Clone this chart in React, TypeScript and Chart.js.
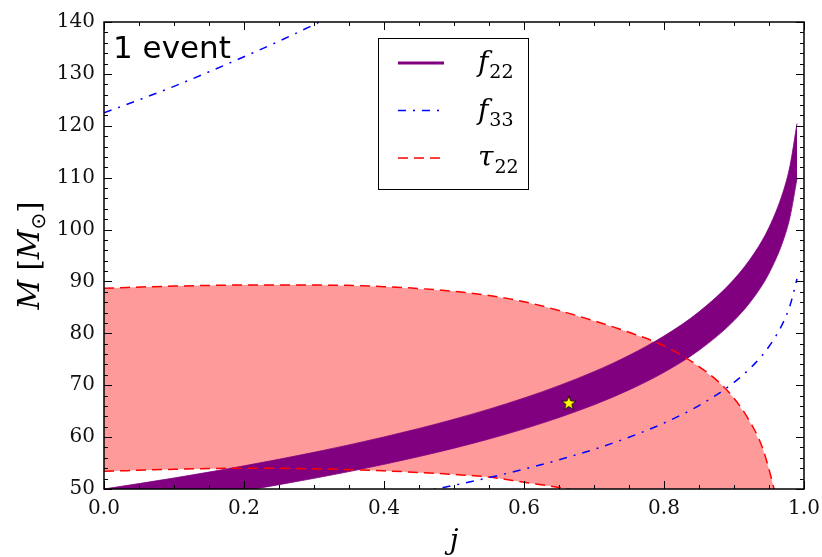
import React, { useEffect, useRef } from "react";
import { Chart, registerables } from "chart.js";

Chart.register(...registerables);

// ---------------- data ----------------
// spin grid for the f22 band
const bandJ = [0, 0.05, 0.1, 0.15, 0.2, 0.25, 0.3, 0.35, 0.4, 0.45, 0.5, 0.55, 0.6, 0.65, 0.7, 0.75, 0.8, 0.85, 0.9, 0.93, 0.95, 0.97, 0.98, 0.99];
const f22UpperM = [50.0, 51.04, 52.12, 53.26, 54.46, 55.73, 57.07, 58.5, 60.03, 61.67, 63.45, 65.39, 67.53, 69.92, 72.62, 75.75, 79.49, 84.14, 90.41, 95.66, 100.4, 107.21, 112.31, 120.43];
const f22LowerM = [45.6, 46.55, 47.54, 48.58, 49.67, 50.83, 52.05, 53.35, 54.75, 56.25, 57.87, 59.64, 61.59, 63.77, 66.23, 69.09, 72.49, 76.74, 82.45, 87.24, 91.57, 97.78, 102.42, 109.83];

// f33 curves (two branches)
const f33UpperJ = [0, 0.05, 0.1, 0.15, 0.2, 0.25, 0.3, 0.35];
const f33UpperM = [122.5, 125.0, 127.6, 130.4, 133.3, 136.3, 139.5, 142.9];
const f33LowerJ = [0.45, 0.5, 0.55, 0.6, 0.65, 0.7, 0.75, 0.8, 0.85, 0.9, 0.93, 0.95, 0.97, 0.98, 0.99];
const f33LowerM = [49.34, 50.71, 52.19, 53.82, 55.62, 57.64, 59.97, 62.71, 66.08, 70.55, 74.21, 77.46, 82.02, 85.35, 90.5];

// tau22 allowed region boundaries
const tauUpperJ = [0, 0.1, 0.2, 0.3, 0.4, 0.5, 0.55, 0.6, 0.65, 0.7, 0.75, 0.8, 0.85, 0.88, 0.9, 0.92, 0.94, 0.95, 0.96];
const tauUpperM = [88.7, 89.1, 89.3, 89.3, 89.0, 88.1, 87.3, 86.1, 84.4, 82.4, 80.2, 77.6, 73.6, 70.4, 67.5, 63.6, 58.2, 53.8, 48.5];
const tauLowerJ = [0, 0.1, 0.2, 0.3, 0.4, 0.5, 0.55, 0.6, 0.65, 0.7];
const tauLowerM = [53.4, 53.8, 54.0, 53.9, 53.5, 52.8, 52.3, 51.3, 50.3, 49.0];

// injected source
const starJ = [0.664];
const starM = [66.6];

// axes
const xTickValues = [0, 0.2, 0.4, 0.6, 0.8, 1.0];
const yTickValues = [50, 60, 70, 80, 90, 100, 110, 120, 130, 140];
const xMinorStep = 0.05;
const yMinorStep = 2;
const xTitle = "j";
const yTitleParts = { base: "M", open: " [", inner: "M", sub: "\u2299", close: "]" };

const legendItems = [
  { base: "f", sub: "22" },
  { base: "f", sub: "33" },
  { base: "\u03C4", sub: "22" },
];
const annotationText = "1 event";

// ---------------- styles ----------------
const PURPLE = "#800080";
const BLUE = "#0000ff";
const RED = "#ff0000";
const TAU_FILL = "#ff9a9a";
const DASHDOT = [8, 7, 2, 7];
const DASHED = [10, 6];
const SERIF = "'DejaVu Serif', serif";

const pts = (xs: number[], ys: number[]) => xs.map((x, i) => ({ x, y: ys[i] }));

function drawMath(ctx: CanvasRenderingContext2D, base: string, sub: string, x: number, y: number, baseSize: number, subSize: number, subDy: number) {
  ctx.font = `italic ${baseSize}px ${SERIF}`;
  ctx.fillText(base, x, y);
  const w = ctx.measureText(base).width;
  ctx.font = `${subSize}px ${SERIF}`;
  ctx.fillText(sub, x + w + 1, y + subDy);
}

const decorPlugin = {
  id: "decor",
  afterDatasetsDraw(chart: any) {
    const { ctx, chartArea: a, scales } = chart;
    const xs = scales.x;
    const ys = scales.y;
    ctx.save();
    ctx.strokeStyle = "#000";
    ctx.lineWidth = 1;
    const maj = 8;
    const mnr = 4;
    // x ticks (bottom & top), inward
    const nx = Math.round((xs.max - xs.min) / xMinorStep);
    for (let i = 0; i <= nx; i++) {
      const v = xs.min + i * xMinorStep;
      const isMaj = xTickValues.some((t) => Math.abs(t - v) < 1e-6);
      const len = isMaj ? maj : mnr;
      const px = Math.round(xs.getPixelForValue(v)) + 0.5;
      ctx.beginPath();
      ctx.moveTo(px, a.bottom);
      ctx.lineTo(px, a.bottom - len);
      ctx.moveTo(px, a.top);
      ctx.lineTo(px, a.top + len);
      ctx.stroke();
    }
    const ny = Math.round((ys.max - ys.min) / yMinorStep);
    for (let i = 0; i <= ny; i++) {
      const v = ys.min + i * yMinorStep;
      const isMaj = yTickValues.some((t) => Math.abs(t - v) < 1e-6);
      const len = isMaj ? maj : mnr;
      const py = Math.round(ys.getPixelForValue(v)) + 0.5;
      ctx.beginPath();
      ctx.moveTo(a.left, py);
      ctx.lineTo(a.left + len, py);
      ctx.moveTo(a.right, py);
      ctx.lineTo(a.right - len, py);
      ctx.stroke();
    }
    // frame
    ctx.lineWidth = 1.5;
    ctx.strokeRect(a.left, a.top, a.right - a.left, a.bottom - a.top);

    // annotation
    ctx.fillStyle = "#000";
    ctx.textBaseline = "alphabetic";
    ctx.textAlign = "left";
    ctx.font = `31px 'DejaVu Sans', sans-serif`;
    ctx.fillText(annotationText, a.left + 9, a.top + 36);

    // legend
    const lx = 378, ly = 38, lw = 150, lh = 151;
    ctx.fillStyle = "#fff";
    ctx.fillRect(lx, ly, lw, lh);
    ctx.lineWidth = 1;
    ctx.strokeStyle = "#000";
    ctx.strokeRect(lx + 0.5, ly + 0.5, lw, lh);
    const styles = [
      { color: PURPLE, width: 3, dash: [] as number[] },
      { color: BLUE, width: 1.5, dash: DASHDOT },
      { color: RED, width: 1.5, dash: DASHED },
    ];
    legendItems.forEach((item, i) => {
      const yy = ly + 25 + i * 47.5;
      const s = styles[i];
      ctx.save();
      ctx.strokeStyle = s.color;
      ctx.lineWidth = s.width;
      ctx.setLineDash(s.dash);
      ctx.beginPath();
      ctx.moveTo(lx + 20, yy);
      ctx.lineTo(lx + 66, yy);
      ctx.stroke();
      ctx.restore();
      ctx.fillStyle = "#000";
      drawMath(ctx, item.base, item.sub, lx + 100, yy + 8, 28, 19, 7);
    });

    // x title
    ctx.fillStyle = "#000";
    ctx.textAlign = "center";
    ctx.font = `italic 28px ${SERIF}`;
    ctx.fillText(xTitle, (a.left + a.right) / 2, 549);

    // y title (rotated)
    ctx.save();
    ctx.translate(30, (a.top + a.bottom) / 2);
    ctx.rotate(-Math.PI / 2);
    ctx.textAlign = "left";
    const big = 29, small = 20;
    const fI = `italic ${big}px ${SERIF}`;
    const fN = `${big}px ${SERIF}`;
    const fS = `${small}px 'DejaVu Sans', sans-serif`;
    const parts = [
      { t: yTitleParts.base, f: fI, dy: 0 },
      { t: yTitleParts.open, f: fN, dy: 0 },
      { t: yTitleParts.inner, f: fI, dy: 0 },
      { t: yTitleParts.sub, f: fS, dy: 6 },
      { t: yTitleParts.close, f: fN, dy: 0 },
    ];
    let total = 0;
    const widths = parts.map((p) => {
      ctx.font = p.f;
      const w = ctx.measureText(p.t).width;
      total += w;
      return w;
    });
    let cx = -total / 2;
    parts.forEach((p, i) => {
      ctx.font = p.f;
      ctx.fillText(p.t, cx, 9 + p.dy);
      cx += widths[i];
    });
    ctx.restore();
    ctx.restore();
  },
};

export default function App() {
  const ref = useRef<HTMLCanvasElement | null>(null);

  useEffect(() => {
    if (!ref.current) return;

    const star = document.createElement("canvas");
    star.width = 18;
    star.height = 18;
    const sc = star.getContext("2d")!;
    sc.beginPath();
    for (let k = 0; k < 10; k++) {
      const r = k % 2 === 0 ? 7.5 : 3.1;
      const ang = -Math.PI / 2 + (k * Math.PI) / 5;
      const px = 9 + r * Math.cos(ang);
      const py = 9.5 + r * Math.sin(ang);
      if (k === 0) sc.moveTo(px, py);
      else sc.lineTo(px, py);
    }
    sc.closePath();
    sc.fillStyle = "#ffff00";
    sc.fill();
    sc.strokeStyle = "#000";
    sc.lineWidth = 0.8;
    sc.stroke();

    const tauShape = [...pts(tauUpperJ, tauUpperM), ...pts(tauLowerJ, tauLowerM).reverse()];

    const curve = { tension: 0.4, cubicInterpolationMode: "monotone" as const };

    const chart = new Chart(ref.current, {
      type: "line",
      data: {
        datasets: [
          {
            label: "star",
            data: pts(starJ, starM),
            showLine: false,
            pointStyle: star as any,
            pointRadius: 8,
            order: 0,
          },
          {
            label: "f33 upper",
            data: pts(f33UpperJ, f33UpperM),
            borderColor: BLUE,
            borderWidth: 1.5,
            borderDash: DASHDOT,
            pointRadius: 0,
            fill: false,
            ...curve,
            order: 1,
          },
          {
            label: "f33 lower",
            data: pts(f33LowerJ, f33LowerM),
            borderColor: BLUE,
            borderWidth: 1.5,
            borderDash: DASHDOT,
            pointRadius: 0,
            fill: false,
            ...curve,
            order: 1,
          },
          {
            label: "tau upper",
            data: pts(tauUpperJ, tauUpperM),
            borderColor: RED,
            borderWidth: 1.5,
            borderDash: DASHED,
            pointRadius: 0,
            fill: false,
            ...curve,
            order: 2,
          },
          {
            label: "tau lower",
            data: pts(tauLowerJ, tauLowerM),
            borderColor: RED,
            borderWidth: 1.5,
            borderDash: DASHED,
            pointRadius: 0,
            fill: false,
            ...curve,
            order: 2,
          },
          {
            label: "f22 upper",
            data: pts(bandJ, f22UpperM),
            borderColor: PURPLE,
            backgroundColor: PURPLE,
            borderWidth: 0.8,
            pointRadius: 0,
            fill: "+1",
            ...curve,
            order: 3,
          },
          {
            label: "f22 lower",
            data: pts(bandJ, f22LowerM),
            borderColor: PURPLE,
            borderWidth: 0.8,
            pointRadius: 0,
            fill: false,
            ...curve,
            order: 4,
          },
          {
            label: "tau region",
            data: tauShape,
            borderWidth: 0,
            borderColor: "rgba(0,0,0,0)",
            backgroundColor: TAU_FILL,
            pointRadius: 0,
            fill: "shape" as any,
            tension: 0,
            order: 5,
          },
        ],
      },
      options: {
        animation: false,
        responsive: false,
        devicePixelRatio: 1,
        layout: { padding: { top: 22, right: 18, left: 0, bottom: 0 } },
        plugins: { legend: { display: false }, tooltip: { enabled: false } },
        scales: {
          x: {
            type: "linear",
            min: 0,
            max: 1,
            grid: { display: false, drawTicks: false },
            border: { display: false },
            afterBuildTicks: (s: any) => {
              s.ticks = xTickValues.map((v) => ({ value: v }));
            },
            afterFit: (s: any) => {
              s.height = 68;
              s.paddingLeft = 0;
              s.paddingRight = 0;
            },
            ticks: {
              padding: 8,
              color: "#111",
              font: { family: SERIF, size: 20 },
              maxRotation: 0,
              autoSkip: false,
              callback: (v: any) => Number(v).toFixed(1),
            },
          },
          y: {
            type: "linear",
            min: 50,
            max: 140,
            grid: { display: false, drawTicks: false },
            border: { display: false },
            afterBuildTicks: (s: any) => {
              s.ticks = yTickValues.map((v) => ({ value: v }));
            },
            afterFit: (s: any) => {
              s.width = 104;
              s.paddingTop = 0;
              s.paddingBottom = 0;
            },
            ticks: {
              padding: 9,
              color: "#111",
              font: { family: SERIF, size: 20 },
              autoSkip: false,
              callback: (v: any) => String(v),
            },
          },
        },
      },
      plugins: [decorPlugin],
    });

    return () => chart.destroy();
  }, []);

  return (
    <div style={{ position: "absolute", left: 0, top: 0, width: 822, height: 557, background: "#fff" }}>
      <canvas ref={ref} width={822} height={557} />
    </div>
  );
}
